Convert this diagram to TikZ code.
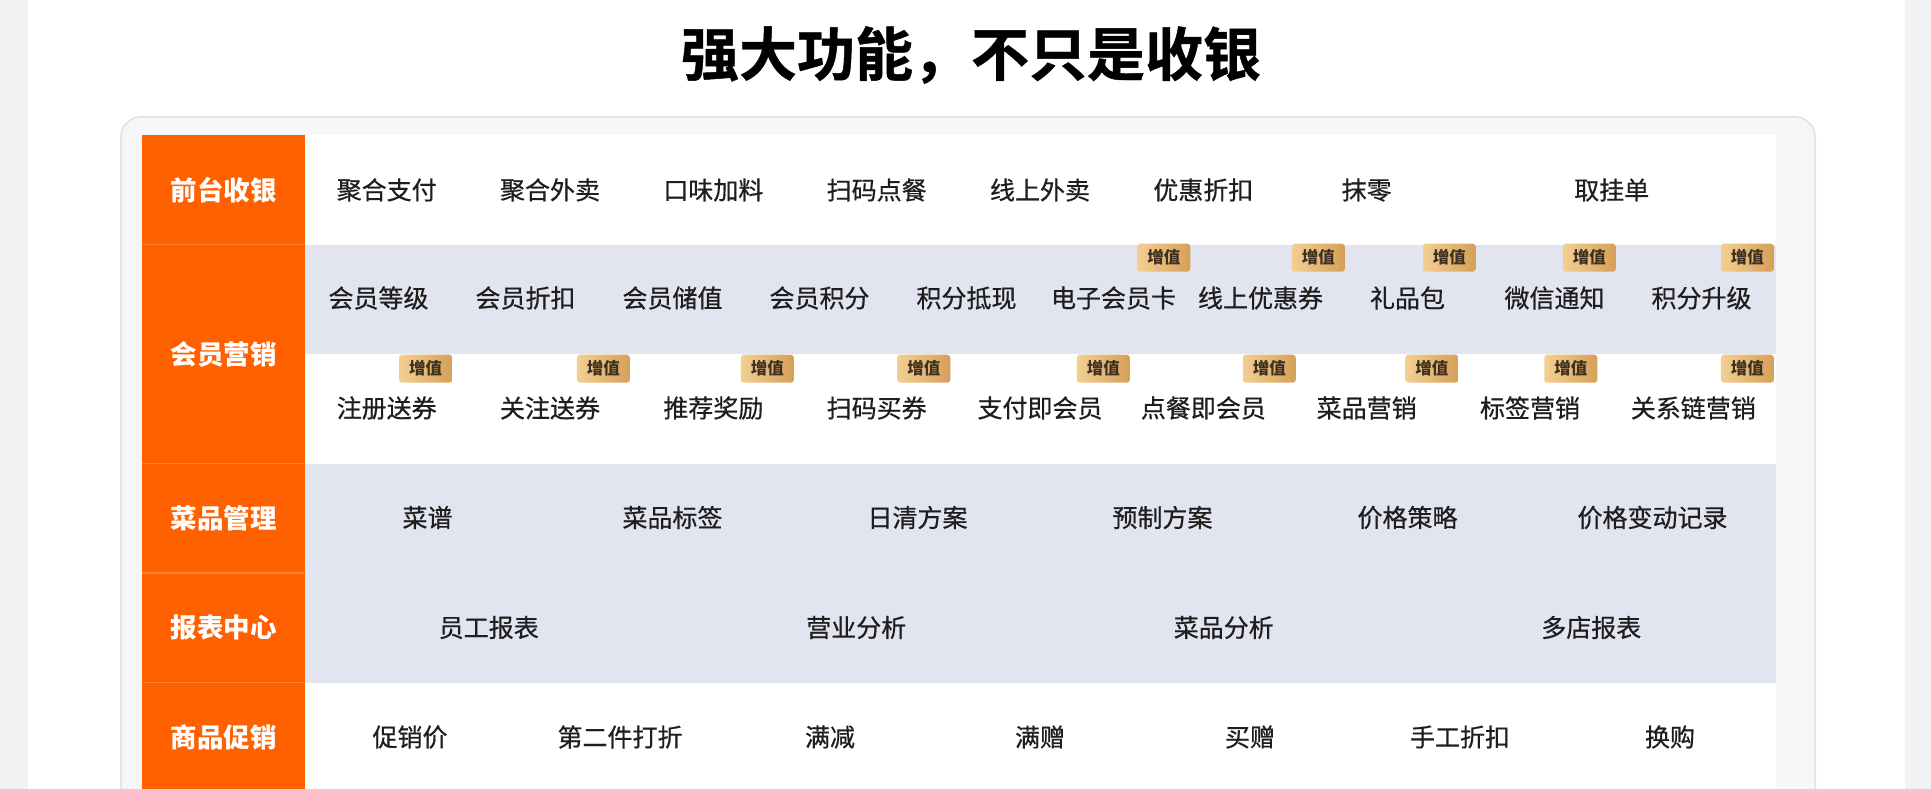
\documentclass[tikz,border=0pt]{standalone}
\usepackage{fontspec}
\setmainfont{Noto Sans CJK SC}
\newfontfamily\medfont[FakeBold=0.6]{Noto Sans CJK SC}
\newfontfamily\heavyfont[FakeBold=0.8]{Noto Sans CJK SC Bold}
\definecolor{orng}{HTML}{FF6000}
\definecolor{rowblue}{HTML}{E2E4F0}
\definecolor{panelbg}{HTML}{F6F7F9}
\definecolor{panelline}{HTML}{E3E6EE}
\definecolor{sidegrey}{HTML}{F2F2F2}
\definecolor{txt}{HTML}{1E1E1E}
\definecolor{goldL}{HTML}{F3CF92}
\definecolor{goldR}{HTML}{D5A058}
\definecolor{badgetxt}{HTML}{3E3022}
\definecolor{sepline}{HTML}{FF7D3A}
\begin{document}
\begin{tikzpicture}[x=1pt,y=-1pt,
  cell/.style={font=\medfont\fontsize{25}{25}\selectfont, text=txt, inner sep=0pt, anchor=center},
  cat/.style={font=\bfseries\fontsize{26.5}{26.5}\selectfont, text=white, inner sep=0pt, anchor=center},
  badge/.style={rounded corners=3pt, left color=goldL, right color=goldR, draw=none,
    minimum width=53pt, minimum height=28pt, inner sep=0pt, anchor=north east,
    font=\bfseries\fontsize{16.5}{16.5}\selectfont, text=badgetxt},
  sep/.style={draw=sepline, line width=1.5pt}
]
\useasboundingbox (0,0) rectangle (1931,789);
\clip (0,0) rectangle (1931,789);
% page background
\fill[white] (0,0) rectangle (1931,789);
\fill[sidegrey] (0,0) rectangle (28,789);
\fill[sidegrey] (1905,0) rectangle (1931,789);
% title
\node[font=\heavyfont\fontsize{58}{58}\selectfont, text=black, inner sep=0pt] (title) at (971,55) {强大功能，不只是收银};
% panel
\draw[panelline, fill=panelbg, line width=2pt, rounded corners=20pt] (121,117) rectangle (1815,860);
% table rows
\fill[white] (305,135) rectangle (1776,792);
\fill[rowblue] (305,244.5) rectangle (1776,354);
\fill[rowblue] (305,463.5) rectangle (1776,682.5);
% orange column
\fill[orng] (142,135) rectangle (305,792);
\foreach \yy/\nm in {244.5/s1,463.5/s2,573/s3,682.5/s4}
  \coordinate (\nm a) at (142,\yy);
\foreach \yy/\nm in {244.5/s1,463.5/s2,573/s3,682.5/s4}
  \coordinate (\nm b) at (305,\yy);
\foreach \nm in {s1,s2,s3,s4}
  \draw[sep] (\nm a) -- (\nm b);
% category labels
\node[cat] (c1) at (223.5,190) {前台收银};
\node[cat] (c2) at (223.5,354) {会员营销};
\node[cat] (c3) at (223.5,518) {菜品管理};
\node[cat] (c4) at (223.5,627.5) {报表中心};
\node[cat] (c5) at (223.5,737) {商品促销};
% row 1
\foreach \t [count=\i from 0] in {聚合支付,聚合外卖,口味加料,扫码点餐,线上外卖,优惠折扣,抹零}
  \node[cell] (r1c\i) at ({386.7+163.33*\i},190) {\t};
\node[cell] (r1c7) at (1611.7,190) {取挂单};
% row 2
\foreach \t [count=\i from 0] in {会员等级,会员折扣,会员储值,会员积分,积分抵现,电子会员卡,线上优惠券,礼品包,微信通知,积分升级}
  \node[cell] (r2c\i) at ({378.5+147*\i},298) {\t};
% row 3
\foreach \t [count=\i from 0] in {注册送券,关注送券,推荐奖励,扫码买券,支付即会员,点餐即会员,菜品营销,标签营销,关系链营销}
  \node[cell] (r3c\i) at ({386.7+163.33*\i},408) {\t};
% row 4
\foreach \t [count=\i from 0] in {菜谱,菜品标签,日清方案,预制方案,价格策略,价格变动记录}
  \node[cell] (r4c\i) at ({427.5+245*\i},517.5) {\t};
% row 5
\foreach \t [count=\i from 0] in {员工报表,营业分析,菜品分析,多店报表}
  \node[cell] (r5c\i) at ({488.75+367.5*\i},627.5) {\t};
% row 6
\foreach \t [count=\i from 0] in {促销价,第二件打折,满减,满赠,买赠,手工折扣,换购}
  \node[cell] (r6c\i) at ({410+210*\i},737) {\t};
% badges row 2
\foreach \xx [count=\i] in {1190.5,1345,1476,1616,1774}
  \node[badge] (b2n\i) at (\xx,243.5) {增值};
% badges row 3
\foreach \xx [count=\i] in {452.4,630,794,950.5,1130,1296,1458.5,1597.5,1774}
  \node[badge] (b3n\i) at (\xx,354.5) {增值};
\end{tikzpicture}
\end{document}
